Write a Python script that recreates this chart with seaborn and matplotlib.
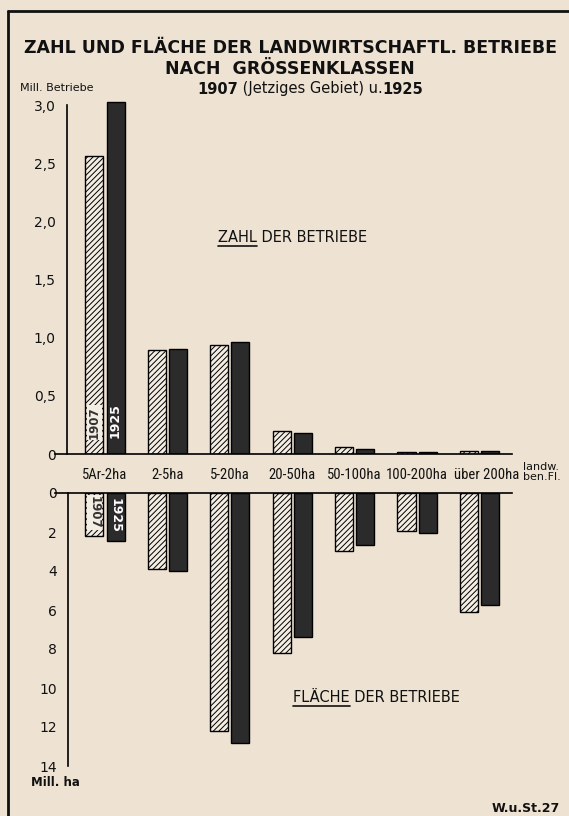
import matplotlib
matplotlib.use("Agg")
import matplotlib.pyplot as plt
from matplotlib.lines import Line2D
from matplotlib import font_manager
from matplotlib.transforms import ScaledTranslation
import seaborn as sns
import pandas as pd

# data
klassen = ["5Ar-2ha", "2-5ha", "5-20ha", "20-50ha", "50-100ha", "100-200ha", "über 200ha"]
jahre = ["1907", "1925"]
zahl_1907 = [2.56, 0.89, 0.94, 0.20, 0.06, 0.02, 0.03]
zahl_1925 = [3.03, 0.90, 0.96, 0.18, 0.04, 0.02, 0.025]
flaeche_1907 = [2.2, 3.9, 12.2, 8.2, 2.95, 1.95, 6.1]
flaeche_1925 = [2.45, 4.0, 12.8, 7.4, 2.65, 2.05, 5.75]

zahl_ticks = [0, 0.5, 1.0, 1.5, 2.0, 2.5, 3.0]
zahl_ticklabels = ["0", "0,5", "1,0", "1,5", "2,0", "2,5", "3,0"]
flaeche_ticks = [0, 2, 4, 6, 8, 10, 12, 14]

BG = "#eee2d2"
LIGHT = "#f4ede3"
DARK = "#2b2b2b"

sns.set_theme(style="white")
plt.rcParams["font.family"] = ["DejaVu Sans"]
plt.rcParams["hatch.linewidth"] = 0.7
plt.rcParams["hatch.color"] = "#222222"

# narrow face for the class labels, if one is installed
installed = {f.name for f in font_manager.fontManager.ttflist}
narrow = next((f for f in ["Liberation Sans Narrow", "Roboto Condensed", "Roboto", "Liberation Sans"]
               if f in installed), "DejaVu Sans")

W, H = 569, 816
fig = plt.figure(figsize=(W / 100, H / 100), dpi=100, facecolor=BG)


def px_axes(left, top, right, bottom):
    return fig.add_axes([left / W, 1 - bottom / H, (right - left) / W, (bottom - top) / H])


def make_df(v1907, v1925):
    return pd.DataFrame({
        "klasse": klassen * 2,
        "jahr": [jahre[0]] * len(klassen) + [jahre[1]] * len(klassen),
        "wert": v1907 + v1925,
    })


palette = {jahre[0]: LIGHT, jahre[1]: DARK}
xlim = (-0.80, 6.52)


def draw_bars(ax, df):
    sns.barplot(data=df, x="klasse", y="wert", hue="jahr", order=klassen, hue_order=jahre,
                palette=palette, width=0.68, gap=0.15, edgecolor="black", linewidth=1.0,
                saturation=1, legend=False, ax=ax)
    for p in ax.containers[0]:
        p.set_hatch("//////")
    ax.set_facecolor("none")
    ax.set_xlim(*xlim)
    ax.set_xlabel(None)
    ax.set_ylabel(None)
    ax.grid(False)


# upper panel: number of farms
ax1 = px_axes(55, 454 - 3.1 * 116.33, 512, 454)
draw_bars(ax1, make_df(zahl_1907, zahl_1925))
ax1.set_ylim(0, 3.1)
for s in ["top", "right"]:
    ax1.spines[s].set_visible(False)
ax1.spines["left"].set_position(("axes", 12 / 457))
ax1.spines["left"].set_bounds(0, 3.0)
for s in ["left", "bottom"]:
    ax1.spines[s].set_color("black")
    ax1.spines[s].set_linewidth(1.2)
ax1.set_yticks(zahl_ticks, zahl_ticklabels)
ax1.tick_params(axis="y", direction="inout", length=10, width=1, color="black",
                labelsize=10, pad=3, labelcolor="#111111")
ax1.set_xticks(range(len(klassen)), klassen)
ax1.tick_params(axis="x", length=0, pad=10, labelsize=10.5, labelcolor="#111111")
xlabels = ax1.get_xticklabels()
for lbl in xlabels:
    lbl.set_fontfamily(narrow)
# the last label sits a little to the right in the original
xlabels[-1].set_transform(xlabels[-1].get_transform() + ScaledTranslation(7 / 100, 0, fig.dpi_scale_trans))

# lower panel: area
ax2 = px_axes(55, 493, 512, 493 + 14.2 * 19.5)
draw_bars(ax2, make_df(flaeche_1907, flaeche_1925))
ax2.set_ylim(14.2, 0)
for s in ["bottom", "right"]:
    ax2.spines[s].set_visible(False)
ax2.spines["left"].set_position(("axes", 13 / 457))
ax2.spines["left"].set_bounds(0, 14)
for s in ["left", "top"]:
    ax2.spines[s].set_color("black")
    ax2.spines[s].set_linewidth(1.2)
ax2.set_yticks(flaeche_ticks, [str(t) for t in flaeche_ticks])
ax2.tick_params(axis="y", direction="inout", length=10, width=1, color="black",
                labelsize=10, pad=3, labelcolor="#111111")
ax2.set_xticks([])

# year labels inside the first bars
for ax, ys, rot in [(ax1, (0.27, 0.29), 90), (ax2, (1.0, 1.15), 270)]:
    p0 = ax.containers[0][0]
    p1 = ax.containers[1][0]
    ax.text(p0.get_x() + p0.get_width() / 2, ys[0], jahre[0], rotation=rot, ha="center",
            va="center", fontsize=8.5, fontweight="bold", color="#333333",
            bbox=dict(boxstyle="square,pad=0.08", fc=LIGHT, ec="none"))
    ax.text(p1.get_x() + p1.get_width() / 2, ys[1], jahre[1], rotation=rot, ha="center",
            va="center", fontsize=9, fontweight="bold", color="white")


def fy(y):
    return 1 - y / H


fig.canvas.draw()
renderer = fig.canvas.get_renderer()


def text_width(s, **kw):
    t = fig.text(0, 0, s, **kw)
    w = t.get_window_extent(renderer).width / W
    t.remove()
    return w


# titles
fig.text(0.51, fy(48), "ZAHL UND FLÄCHE DER LANDWIRTSCHAFTL. BETRIEBE", ha="center", va="center",
         fontsize=12.5, fontweight="bold", color="#111111")
fig.text(0.51, fy(69), "NACH  GRÖSSENKLASSEN", ha="center", va="center",
         fontsize=12.5, fontweight="bold", color="#111111")
parts = [("1907", "bold"), (" (Jetziges Gebiet) u.", "normal"), ("1925", "bold")]
widths = [text_width(s, fontsize=10.5, fontweight=w) for s, w in parts]
x = 310 / W - sum(widths) / 2
for (s, w), wd in zip(parts, widths):
    fig.text(x, fy(89), s, ha="left", va="center", fontsize=10.5, fontweight=w, color="#111111")
    x += wd

# panel labels with underlined first word
for first, rest, x0, y0 in [("ZAHL", " DER BETRIEBE", 218, 237), ("FLÄCHE", " DER BETRIEBE", 293, 697)]:
    fig.text(x0 / W, fy(y0), first + rest, ha="left", va="center", fontsize=10.5, color="#111111")
    w = text_width(first, fontsize=10.5)
    fig.add_artist(Line2D([x0 / W, x0 / W + w], [fy(y0 + 9), fy(y0 + 9)], color="#111111", lw=1.2))

# axis units and notes
fig.text(20 / W, fy(88), "Mill. Betriebe", ha="left", va="center", fontsize=8, color="#111111")
fig.text(55 / W, fy(783), "Mill. ha", ha="center", va="center", fontsize=8.5,
         fontweight="bold", color="#111111")
fig.text(523 / W, fy(472), "landw.\nben.Fl.", ha="left", va="center", fontsize=8,
         linespacing=1.0, color="#111111")
fig.text(560 / W, fy(808), "W.u.St.27", ha="right", va="center", fontsize=9,
         fontweight="bold", color="#111111")

# frame
fig.add_artist(Line2D([8 / W, 8 / W], [0, fy(11)], color="#111111", lw=2))
fig.add_artist(Line2D([8 / W, 1], [fy(11), fy(11)], color="#111111", lw=2))

fig.savefig("out.png", dpi=100, facecolor=BG)
